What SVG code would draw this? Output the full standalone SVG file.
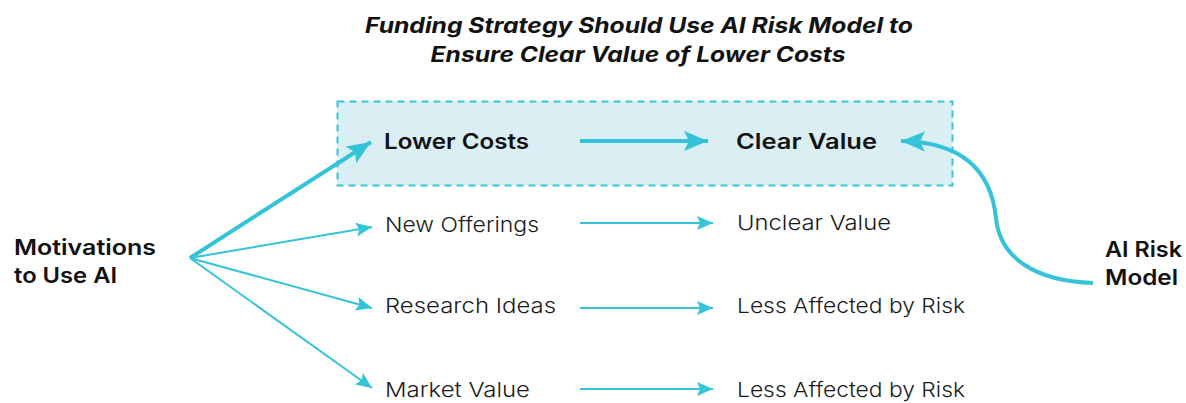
<svg xmlns="http://www.w3.org/2000/svg" width="1186" height="403" viewBox="0 0 1186 403">
  <style>
    .title { font-family: Inter, "Open Sans", "Liberation Sans", sans-serif; font-size: 21px; font-weight: 700; font-style: italic; fill: #111; }
    .bold { font-family: Inter, "Open Sans", "Liberation Sans", sans-serif; font-size: 21.5px; font-weight: 600; fill: #111; }
    .reg { font-family: Inter, "Open Sans", "Liberation Sans", sans-serif; font-size: 20.5px; font-weight: 300; fill: #1a1a1a; }
    .thin { stroke: #35c3d8; stroke-width: 2; fill: none; }
    .thick { stroke: #35c3d8; stroke-width: 4; fill: none; }
  </style>
  <defs>
    <marker id="headS" markerUnits="userSpaceOnUse" markerWidth="18" markerHeight="16" refX="16" refY="7" orient="auto" viewBox="0 0 18 14">
      <path d="M0,0 L16,7 L0,14 L3,7 Z" fill="#35c3d8"/>
    </marker>
    <marker id="headL" markerUnits="userSpaceOnUse" markerWidth="26" markerHeight="22" refX="24" refY="10" orient="auto" viewBox="0 0 26 20">
      <path d="M0,0 L24,10 L0,20 L5,10 Z" fill="#35c3d8"/>
    </marker>
  </defs>

  <!-- heading -->
  <g id="title">
    <text class="title" x="639" y="33" text-anchor="middle" textLength="548" lengthAdjust="spacingAndGlyphs">Funding Strategy Should Use AI Risk Model to</text>
    <text class="title" x="638" y="62" text-anchor="middle" textLength="415" lengthAdjust="spacingAndGlyphs">Ensure Clear Value of Lower Costs</text>
  </g>

  <!-- highlighted band -->
  <g id="highlight">
    <rect x="337.5" y="101.5" width="615" height="84" fill="#daeff4" stroke="#35c3d8" stroke-width="2" stroke-dasharray="7 5"/>
  </g>

  <g id="motivations">
    <text class="bold" x="14" y="255" textLength="142" lengthAdjust="spacingAndGlyphs">Motivations</text>
    <text class="bold" x="14" y="283" textLength="103" lengthAdjust="spacingAndGlyphs">to Use AI</text>
  </g>

  <g id="lower-costs">
    <text class="bold" x="384" y="149" textLength="145" lengthAdjust="spacingAndGlyphs">Lower Costs</text>
  </g>
  <g id="clear-value">
    <text class="bold" x="736" y="149" textLength="141" lengthAdjust="spacingAndGlyphs">Clear Value</text>
  </g>
  <g id="new-offerings">
    <text class="reg" x="385" y="232" textLength="154" lengthAdjust="spacingAndGlyphs">New Offerings</text>
  </g>
  <g id="unclear-value">
    <text class="reg" x="737" y="230" textLength="154" lengthAdjust="spacingAndGlyphs">Unclear Value</text>
  </g>
  <g id="research-ideas">
    <text class="reg" x="385" y="313" textLength="171" lengthAdjust="spacingAndGlyphs">Research Ideas</text>
  </g>
  <g id="less-affected-1">
    <text class="reg" x="737" y="313" textLength="228" lengthAdjust="spacingAndGlyphs">Less Affected by Risk</text>
  </g>
  <g id="market-value">
    <text class="reg" x="385" y="397" textLength="145" lengthAdjust="spacingAndGlyphs">Market Value</text>
  </g>
  <g id="less-affected-2">
    <text class="reg" x="737" y="397" textLength="228" lengthAdjust="spacingAndGlyphs">Less Affected by Risk</text>
  </g>
  <g id="ai-risk-model">
    <text class="bold" x="1105" y="257" textLength="77" lengthAdjust="spacingAndGlyphs">AI Risk</text>
    <text class="bold" x="1105" y="285" textLength="73" lengthAdjust="spacingAndGlyphs">Model</text>
  </g>

  <g id="connectors">
    <line class="thick" x1="190" y1="258" x2="371" y2="142" marker-end="url(#headL)"/>
    <line class="thin" x1="190" y1="258" x2="372" y2="227" marker-end="url(#headS)"/>
    <line class="thin" x1="190" y1="258" x2="372" y2="308" marker-end="url(#headS)"/>
    <line class="thin" x1="190" y1="258" x2="372" y2="388" marker-end="url(#headS)"/>
    <line class="thick" x1="580" y1="141" x2="708" y2="141" marker-end="url(#headL)"/>
    <line class="thin" x1="580" y1="223" x2="713" y2="223" marker-end="url(#headS)"/>
    <line class="thin" x1="580" y1="308" x2="713" y2="308" marker-end="url(#headS)"/>
    <line class="thin" x1="580" y1="389" x2="713" y2="389" marker-end="url(#headS)"/>
    <path class="thick" d="M1093,283 C1035,281 1000,258 996,218 C991,170 962,142 901,141" marker-end="url(#headL)"/>
  </g>
</svg>
